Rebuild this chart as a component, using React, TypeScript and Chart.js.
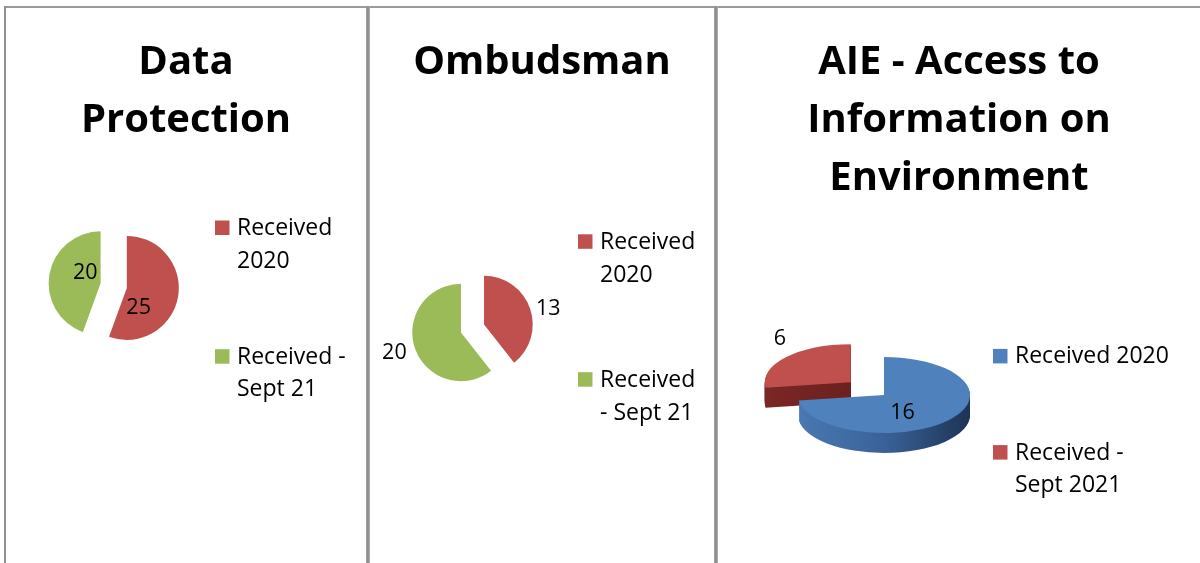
import React, { useEffect, useRef } from "react";
import { Chart, registerables } from "chart.js";

Chart.register(...registerables);

// ---------- data ----------
const RED = "#C0504D";
const GREEN = "#9BBB59";
const BLUE = "#4F81BD";

const dpTitle = ["Data", "Protection"];
const dpCategories = [["Received", "2020"], ["Received -", "Sept 21"]];
const dpValues = [25, 20];

const omTitle = ["Ombudsman"];
const omCategories = [["Received", "2020"], ["Received", "- Sept 21"]];
const omValues = [13, 20];

const aieTitle = ["AIE - Access to", "Information on", "Environment"];
const aieCategories = [["Received 2020"], ["Received -", "Sept 2021"]];
const aieValues = [16, 6];

// ---------- layout / style ----------
const FONT = "'Open Sans', Lato, sans-serif";
const CANVAS_H = 700;
const TITLE_SIZE = 40;
const TITLE_FIRST_BASELINE = 73.5;
const TITLE_LH = 58.3;
const LEGEND_SIZE = 23;
const VALUE_SIZE = 21.5;

type Panel = {
  left: number;
  width: number;
  title: string[];
  labels: string[][];
  values: number[];
  colors: string[];
  center: [number, number];
  radius: number;
  explode: number[];
  valuePos: { angle: number; dist: number }[];
  legend: { boxX: number; textX: number; baselines: number[]; lineHeight: number };
  squash?: number;
  depth?: number;
  sides?: string[][];
  order?: number[];
};

const panels: Panel[] = [
  {
    left: 6,
    width: 360,
    title: dpTitle,
    labels: dpCategories,
    values: dpValues,
    colors: [RED, GREEN],
    center: [107.7, 285.6],
    radius: 52,
    explode: [13.3, 13.3],
    valuePos: [
      { angle: 149, dist: 23 },
      { angle: 304.6, dist: 18.5 },
    ],
    legend: { boxX: 209, textX: 231, baselines: [235, 363.7], lineHeight: 32.5 },
  },
  {
    left: 370,
    width: 344,
    title: omTitle,
    labels: omCategories,
    values: omValues,
    colors: [RED, GREEN],
    center: [102.5, 328.5],
    radius: 48.7,
    explode: [12.2, 12.2],
    valuePos: [
      { angle: 76.3, dist: 66.2 },
      { angle: 253, dist: 69.6 },
    ],
    legend: { boxX: 208, textX: 230, baselines: [248.8, 386.7], lineHeight: 33 },
  },
  {
    left: 718,
    width: 482,
    title: aieTitle,
    labels: aieCategories,
    values: aieValues,
    colors: [BLUE, RED],
    center: [166, 395],
    radius: 86,
    explode: [0, 44],
    valuePos: [
      { angle: 155.9, dist: 45.3 },
      { angle: 323.9, dist: 120.4 },
    ],
    legend: { boxX: 275, textX: 297, baselines: [363.4, 459.6], lineHeight: 32.5 },
    squash: 0.442,
    depth: 20,
    sides: [
      ["#4A78B3", "#3A6299", "#1D3454"],
      ["#7A2725", "#5C1A19"],
    ],
    order: [1, 0],
  },
];

// ---------- plugins ----------
const panelTitlePlugin = {
  id: "panelTitle",
  afterDraw(chart: any, _args: any, opts: any) {
    const ctx: CanvasRenderingContext2D = chart.ctx;
    const lines: string[] = opts.text || [];
    ctx.save();
    ctx.font = `bold ${TITLE_SIZE}px ${FONT}`;
    ctx.fillStyle = "#000";
    ctx.textAlign = "center";
    ctx.textBaseline = "alphabetic";
    lines.forEach((line, i) => {
      ctx.fillText(line, chart.width / 2, TITLE_FIRST_BASELINE + i * TITLE_LH);
    });
    ctx.restore();
  },
};

const explodePlugin = {
  id: "explode",
  afterDatasetUpdate(chart: any, args: any, opts: any) {
    const dist: number[] = (opts && opts.distances) || [];
    args.meta.data.forEach((arc: any, i: number) => {
      const d = dist[i] || 0;
      const mid = (arc.startAngle + arc.endAngle) / 2;
      arc.x += Math.cos(mid) * d;
      arc.y += Math.sin(mid) * d;
    });
  },
};

const pie3dPlugin = {
  id: "pie3d",
  beforeDatasetDraw(chart: any, args: any, opts: any) {
    if (!opts || !opts.enabled) return;
    const ctx: CanvasRenderingContext2D = chart.ctx;
    const ca = chart.chartArea;
    const cy = (ca.top + ca.bottom) / 2;
    const k: number = opts.squash;
    const arcs = args.meta.data;
    for (const i of opts.order as number[]) {
      const arc = arcs[i];
      const r = arc.outerRadius;
      const sx = arc.x;
      const sy = cy + (arc.y - cy) * k;
      const stops: string[] = opts.sides[i];
      const grad = ctx.createLinearGradient(sx - r, 0, sx + r, 0);
      stops.forEach((c, j) => grad.addColorStop(stops.length === 1 ? 0 : j / (stops.length - 1), c));
      ctx.save();
      ctx.fillStyle = grad;
      for (let d = opts.depth; d >= 1; d--) {
        ctx.beginPath();
        ctx.moveTo(sx, sy + d);
        ctx.ellipse(sx, sy + d, r, r * k, 0, arc.startAngle, arc.endAngle);
        ctx.closePath();
        ctx.fill();
      }
      ctx.restore();
      ctx.save();
      ctx.translate(0, cy);
      ctx.scale(1, k);
      ctx.translate(0, -cy);
      arc.draw(ctx);
      ctx.restore();
    }
    return false;
  },
};

const valueLabelPlugin = {
  id: "valueLabels",
  afterDatasetsDraw(chart: any, _args: any, opts: any) {
    const ctx: CanvasRenderingContext2D = chart.ctx;
    const meta = chart.getDatasetMeta(0);
    const ca = chart.chartArea;
    const cy = (ca.top + ca.bottom) / 2;
    const k: number = opts.squash || 1;
    const values = chart.data.datasets[0].data;
    ctx.save();
    ctx.font = `${VALUE_SIZE}px ${FONT}`;
    ctx.fillStyle = "#000";
    ctx.textAlign = "center";
    ctx.textBaseline = "middle";
    meta.data.forEach((arc: any, i: number) => {
      const p = opts.positions[i];
      const a = (p.angle * Math.PI) / 180;
      const x = arc.x + Math.sin(a) * p.dist;
      const y0 = arc.y - Math.cos(a) * p.dist;
      const y = cy + (y0 - cy) * k;
      ctx.fillText(String(values[i]), x, y);
    });
    ctx.restore();
  },
};

const sideLegendPlugin = {
  id: "sideLegend",
  afterDraw(chart: any, _args: any, opts: any) {
    const ctx: CanvasRenderingContext2D = chart.ctx;
    const labels: string[][] = chart.data.labels;
    const colors: string[] = chart.data.datasets[0].backgroundColor;
    const box = 14.5;
    ctx.save();
    ctx.font = `${LEGEND_SIZE}px ${FONT}`;
    ctx.textAlign = "left";
    ctx.textBaseline = "alphabetic";
    labels.forEach((lines, i) => {
      const base = opts.baselines[i];
      ctx.fillStyle = colors[i];
      ctx.fillRect(opts.boxX, base - box, box, box);
      ctx.fillStyle = "#000";
      lines.forEach((line, j) => ctx.fillText(line, opts.textX, base + j * opts.lineHeight));
    });
    ctx.restore();
  },
};

// ---------- components ----------
function PiePanel({ cfg }: { cfg: Panel }) {
  const ref = useRef<HTMLCanvasElement>(null);
  useEffect(() => {
    let chart: Chart | null = null;
    let cancelled = false;
    const make = () => {
      if (cancelled || !ref.current) return;
      const [cx, cy] = cfg.center;
      const padRight = Math.max(cfg.width - 2 * cx, 0);
      const padLeft = Math.max(2 * cx - cfg.width, 0);
      const padBottom = Math.max(CANVAS_H - 2 * cy, 0);
      const padTop = Math.max(2 * cy - CANVAS_H, 0);
      chart = new Chart(ref.current, {
        type: "pie",
        data: {
          labels: cfg.labels as any,
          datasets: [
            {
              data: cfg.values,
              backgroundColor: cfg.colors,
              borderWidth: 0,
            },
          ],
        },
        options: {
          responsive: false,
          animation: false,
          devicePixelRatio: 1,
          events: [],
          radius: cfg.radius,
          rotation: 0,
          layout: { padding: { left: padLeft, right: padRight, top: padTop, bottom: padBottom } },
          plugins: {
            legend: { display: false },
            tooltip: { enabled: false },
            title: { display: false },
            panelTitle: { text: cfg.title },
            explode: { distances: cfg.explode },
            pie3d: cfg.squash
              ? { enabled: true, squash: cfg.squash, depth: cfg.depth, sides: cfg.sides, order: cfg.order }
              : { enabled: false },
            valueLabels: { positions: cfg.valuePos, squash: cfg.squash || 1 },
            sideLegend: cfg.legend,
          },
        } as any,
        plugins: [explodePlugin, pie3dPlugin, valueLabelPlugin, sideLegendPlugin, panelTitlePlugin] as any,
      });
    };
    const fonts: any = (document as any).fonts;
    if (fonts && fonts.load) {
      Promise.all([
        fonts.load(`bold ${TITLE_SIZE}px "Open Sans"`),
        fonts.load(`${LEGEND_SIZE}px "Open Sans"`),
      ]).then(make, make);
    } else {
      make();
    }
    return () => {
      cancelled = true;
      if (chart) chart.destroy();
    };
  }, [cfg]);
  return (
    <canvas
      ref={ref}
      width={cfg.width}
      height={CANVAS_H}
      style={{ position: "absolute", left: cfg.left, top: 0, width: cfg.width, height: CANVAS_H }}
    />
  );
}

const lineStyle = (s: React.CSSProperties): React.CSSProperties => ({
  position: "absolute",
  background: "#999999",
  ...s,
});

export default function App() {
  return (
    <div
      style={{
        position: "fixed",
        left: 0,
        top: 0,
        width: 1200,
        height: 563,
        overflow: "hidden",
        background: "#ffffff",
      }}
    >
      {panels.map((p, i) => (
        <PiePanel key={i} cfg={p} />
      ))}
      <div style={lineStyle({ left: 4, top: 6, width: 1196, height: 2, background: "#9a9a9a" })} />
      <div style={lineStyle({ left: 4, top: 6, width: 2, height: 557, background: "#8f8f8f" })} />
      <div
        style={lineStyle({
          left: 366,
          top: 6,
          width: 4,
          height: 557,
          background: "linear-gradient(to right, #a8a8a8, #858585 50%, #b8b8b8)",
        })}
      />
      <div
        style={lineStyle({
          left: 714,
          top: 6,
          width: 4,
          height: 557,
          background: "linear-gradient(to right, #a8a8a8, #858585 50%, #b8b8b8)",
        })}
      />
    </div>
  );
}
